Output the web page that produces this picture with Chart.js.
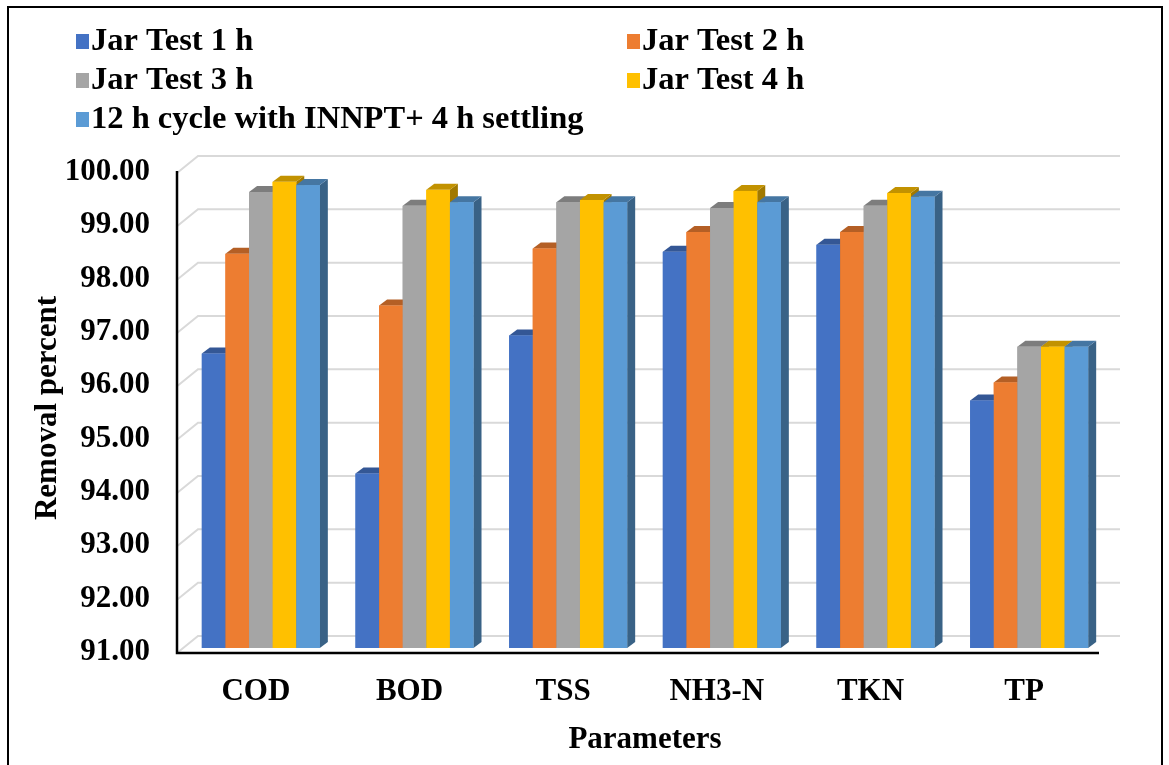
<!DOCTYPE html>
<html>
<head>
<meta charset="utf-8">
<title>Removal percent</title>
<script src="https://cdn.jsdelivr.net/npm/chart.js@4.4.1/dist/chart.umd.min.js"></script>
<style>
  html, body { margin: 0; padding: 0; background: #fff; }
  #wrap { width: 1169px; height: 765px; }
</style>
</head>
<body>
<div id="wrap"><canvas id="removalChart" width="1169" height="765"></canvas></div>
<script>
const categories = ["COD", "BOD", "TSS", "NH3-N", "TKN", "TP"];
const seriesNames = [
  "Jar Test 1 h",
  "Jar Test 2 h",
  "Jar Test 3 h",
  "Jar Test 4 h",
  "12 h cycle with INNPT+ 4 h settling",
];
const jar1h = [96.52, 94.27, 96.86, 98.43, 98.56, 95.64];
const jar2h = [98.39, 97.42, 98.49, 98.8, 98.8, 95.98];
const jar3h = [99.55, 99.29, 99.36, 99.25, 99.29, 96.65];
const jar4h = [99.74, 99.59, 99.4, 99.57, 99.53, 96.65];
const cycle12h = [99.68, 99.36, 99.36, 99.36, 99.46, 96.65];
const yTicks = [91, 92, 93, 94, 95, 96, 97, 98, 99, 100];

const colors = ["#4472C4", "#ED7D31", "#A5A5A5", "#FFC000", "#5B9BD5"];
const FONT = "'Liberation Serif', 'Times New Roman', serif";

// offsets of the front plane and back wall relative to the bar faces
const FRONT = { dx: -7, dy: 5 };
const BACK = { dx: 14, dy: -12 };
const BAR_DX = 8, BAR_DY = 6;

function shade(hex, f) {
  const n = parseInt(hex.slice(1), 16);
  const r = Math.round(((n >> 16) & 255) * f);
  const g = Math.round(((n >> 8) & 255) * f);
  const b = Math.round((n & 255) * f);
  return "rgb(" + r + "," + g + "," + b + ")";
}

function poly(ctx, pts, fill) {
  ctx.beginPath();
  ctx.moveTo(pts[0][0], pts[0][1]);
  for (let i = 1; i < pts.length; i++) ctx.lineTo(pts[i][0], pts[i][1]);
  ctx.closePath();
  ctx.fillStyle = fill;
  ctx.fill();
}

const depth3d = {
  id: "depth3d",
  beforeDatasetsDraw(chart) {
    const { ctx, chartArea: a, scales: { y } } = chart;
    ctx.save();
    ctx.strokeStyle = "#d9d9d9";
    ctx.lineWidth = 2;
    yTicks.forEach(function (v) {
      const py = y.getPixelForValue(v);
      ctx.beginPath();
      ctx.moveTo(a.left + FRONT.dx, py + FRONT.dy);
      ctx.lineTo(a.left + BACK.dx, py + BACK.dy);
      ctx.lineTo(a.right + BACK.dx, py + BACK.dy);
      ctx.stroke();
    });
    ctx.restore();
  },
  afterDatasetsDraw(chart) {
    const { ctx, chartArea: a, scales: { y } } = chart;
    ctx.save();
    // draw each group left to right so the right neighbour hides the hidden faces
    for (let i = 0; i < chart.data.labels.length; i++) {
      chart.data.datasets.forEach(function (ds, d) {
        const el = chart.getDatasetMeta(d).data[i];
        const p = el.getProps(["x", "y", "width", "base"], true);
        const x1 = p.x - p.width / 2, x2 = p.x + p.width / 2;
        const top = p.y, base = Math.min(p.base, a.bottom);
        const c = ds.backgroundColor;
        poly(ctx, [[x2, top], [x2 + BAR_DX, top - BAR_DY], [x2 + BAR_DX, base - BAR_DY], [x2, base]], shade(c, 0.63));
        poly(ctx, [[x1, top], [x1 + BAR_DX, top - BAR_DY], [x2 + BAR_DX, top - BAR_DY], [x2, top]], shade(c, 0.76));
        ctx.fillStyle = c;
        ctx.fillRect(x1, top, x2 - x1, base - top);
      });
    }
    // black axis lines on the front plane
    const y0 = y.getPixelForValue(91) + FRONT.dy;
    const yTop = y.getPixelForValue(100) + FRONT.dy - 2;
    ctx.strokeStyle = "#000";
    ctx.lineWidth = 2.5;
    ctx.beginPath();
    ctx.moveTo(a.left + FRONT.dx, yTop);
    ctx.lineTo(a.left + FRONT.dx, y0);
    ctx.lineTo(a.right + FRONT.dx, y0);
    ctx.stroke();
    ctx.restore();
  },
  afterDraw(chart) {
    const ctx = chart.ctx;
    ctx.save();
    // legend, two columns
    const cols = [76, 627];
    const rows = [41, 80, 119];
    ctx.font = "bold 32.5px " + FONT;
    ctx.textBaseline = "middle";
    chart.data.datasets.forEach(function (ds, i) {
      const x = cols[i % 2], yy = rows[Math.floor(i / 2)];
      ctx.fillStyle = ds.backgroundColor;
      ctx.fillRect(x, yy - 7, 13, 15);
      ctx.fillStyle = "#000";
      ctx.fillText(ds.label, x + 15, yy + 1);
    });
    // outer frame
    ctx.strokeStyle = "#000";
    ctx.lineWidth = 2;
    ctx.strokeRect(8, 7, 1154, 770);
    ctx.restore();
  },
};

const series = [jar1h, jar2h, jar3h, jar4h, cycle12h];

new Chart(document.getElementById("removalChart").getContext("2d"), {
  type: "bar",
  data: {
    labels: categories,
    datasets: series.map(function (vals, i) {
      return {
        label: seriesNames[i],
        data: vals,
        base: 91,
        backgroundColor: colors[i],
        borderWidth: 0,
        barPercentage: 1,
        categoryPercentage: 0.768,
      };
    }),
  },
  options: {
    responsive: false,
    animation: false,
    layout: { padding: { top: 168, right: 63, left: 0, bottom: 0 } },
    plugins: {
      legend: { display: false },
      tooltip: { enabled: false },
    },
    scales: {
      x: {
        grid: { display: false, drawTicks: false },
        border: { display: false },
        ticks: {
          color: "#000",
          font: { family: FONT, size: 31, weight: "bold" },
          padding: 25,
          labelOffset: -5,
        },
        title: {
          display: true,
          text: "Parameters",
          color: "#000",
          font: { family: FONT, size: 31, weight: "bold" },
          padding: { top: 0, bottom: 6 },
        },
        afterFit: function (s) { s.height = 117; },
      },
      y: {
        min: 91,
        max: 100,
        grid: { display: false, drawTicks: false },
        border: { display: false },
        ticks: {
          stepSize: 1,
          color: "#000",
          font: { family: FONT, size: 31, weight: "bold" },
          padding: 34,
          labelOffset: 4,
          callback: function (v) { return Number(v).toFixed(2); },
        },
        title: {
          display: true,
          text: "Removal percent",
          color: "#000",
          font: { family: FONT, size: 31, weight: "bold" },
          padding: { top: 29, bottom: 0 },
        },
        afterFit: function (s) { s.width = 184; },
      },
    },
  },
  plugins: [depth3d],
});
</script>
</body>
</html>
